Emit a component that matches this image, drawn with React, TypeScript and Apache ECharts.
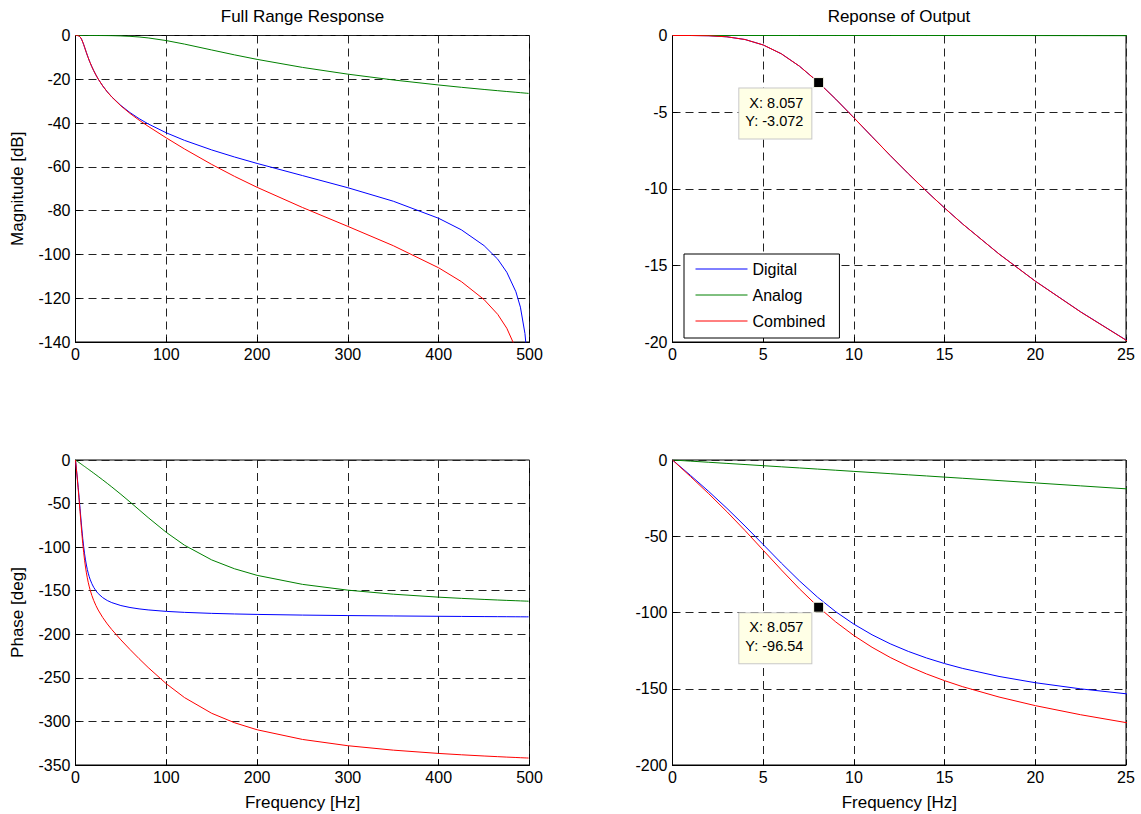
import React, { useEffect, useRef } from "react";
import * as echarts from "echarts";

const FONT = "'Liberation Sans', Arial, Helvetica, sans-serif";

// Frequency samples [Hz]
const freq = [0, 1, 2, 3, 4, 5, 6, 7, 8, 9, 10, 11, 12, 13, 14, 15, 16, 18, 20, 22.5, 25, 30, 35, 40, 50, 60, 70, 80, 100, 120, 150, 175, 200, 250, 300, 350, 400, 425, 450, 465, 475, 485, 490, 495, 497, 499];

// Magnitude [dB]
const digitalMag = [0, -0.001, -0.017, -0.085, -0.263, -0.617, -1.193, -2.004, -3.01, -4.153, -5.367, -6.603, -7.826, -9.016, -10.161, -11.257, -12.304, -14.254, -16.027, -18.032, -19.87, -23.02, -25.72, -28.05, -31.97, -35.21, -37.96, -40.36, -44.45, -47.89, -52.27, -55.48, -58.44, -63.99, -69.54, -75.7, -83.51, -88.77, -95.99, -102.17, -108.15, -117.04, -124.09, -136.14, -145.0, -164.0];
const analogMag = [0, 0, 0, 0, 0, 0, 0, 0, 0, 0, 0, 0, -0.001, -0.001, -0.001, -0.002, -0.002, -0.003, -0.005, -0.008, -0.012, -0.025, -0.046, -0.078, -0.188, -0.381, -0.682, -1.106, -2.326, -3.925, -6.614, -8.834, -10.91, -14.58, -17.66, -20.31, -22.61, -23.66, -24.65, -25.21, -25.58, -25.94, -26.12, -26.3, -26.37, -26.44];
const combinedMag = [0, -0.001, -0.017, -0.085, -0.263, -0.617, -1.193, -2.004, -3.01, -4.153, -5.367, -6.603, -7.827, -9.017, -10.162, -11.259, -12.306, -14.257, -16.032, -18.04, -19.882, -23.045, -25.766, -28.128, -32.158, -35.591, -38.642, -41.466, -46.776, -51.815, -58.884, -64.314, -69.35, -78.57, -87.2, -96.01, -106.12, -112.43, -120.64, -127.38, -133.73, -142.98, -150.21, -162.44, -171.37, -190.4];

// Phase [deg]
const digitalPhase = [0, -10.18, -20.66, -31.68, -43.31, -55.42, -67.59, -79.27, -90, -99.48, -107.65, -114.61, -120.51, -125.52, -129.81, -133.49, -136.69, -141.93, -146.04, -150.08, -153.29, -157.96, -161.25, -163.66, -167.03, -169.26, -170.85, -172.03, -173.72, -174.85, -176.0, -176.67, -177.2, -177.96, -178.52, -178.96, -179.34, -179.51, -179.68, -179.77, -179.84, -179.9, -179.94, -179.97, -179.98, -180.0];
const analogPhase = [0, -0.74, -1.49, -2.23, -2.98, -3.72, -4.47, -5.21, -5.96, -6.71, -7.46, -8.2, -8.96, -9.71, -10.46, -11.22, -11.98, -13.5, -15.03, -16.96, -18.9, -22.83, -26.85, -30.96, -39.4, -48.16, -57.1, -66.05, -83.04, -97.76, -114.66, -124.79, -132.37, -142.72, -149.37, -154.0, -157.4, -158.78, -160.0, -160.67, -161.09, -161.49, -161.69, -161.88, -161.95, -162.03];
const combinedPhase = [0, -10.92, -22.15, -33.91, -46.29, -59.14, -72.06, -84.48, -95.96, -106.19, -115.11, -122.81, -129.47, -135.23, -140.27, -144.71, -148.67, -155.43, -161.07, -167.04, -172.19, -180.79, -188.1, -194.62, -206.43, -217.42, -227.95, -238.08, -256.76, -272.61, -290.66, -301.46, -309.57, -320.68, -327.89, -332.96, -336.74, -338.29, -339.68, -340.44, -340.93, -341.39, -341.63, -341.85, -341.93, -342.03];

// Data tips
const tipX = 8.057;
const tipMag = -3.072;
const tipPhase = -96.54;

const seriesNames = ["Digital", "Analog", "Combined"];
const seriesColors = ["#0000ff", "#008000", "#ff0000"];

const titles = ["Full Range Response", "Reponse of Output"];
const magLabel = "Magnitude [dB]";
const phaseLabel = "Phase [deg]";
const freqLabel = "Frequency [Hz]";

export default function App() {
  const ref = useRef<HTMLDivElement>(null);

  useEffect(() => {
    document.body.style.margin = "0";
    const chart = echarts.init(ref.current!, null, { renderer: "svg" });

    const grids = [
      { left: 75.5, top: 35.5, width: 454, height: 306.5 },
      { left: 672.5, top: 35.5, width: 453.5, height: 306.5 },
      { left: 75.5, top: 460, width: 454, height: 305 },
      { left: 672.5, top: 460, width: 453.5, height: 305 },
    ].map((g) => ({
      ...g,
      show: true,
      borderColor: "#000",
      borderWidth: 1,
      backgroundColor: "#fff",
      containLabel: false,
    }));

    const xRanges = [
      { min: 0, max: 500, interval: 100 },
      { min: 0, max: 25, interval: 5 },
      { min: 0, max: 500, interval: 100 },
      { min: 0, max: 25, interval: 5 },
    ];
    const yRanges = [
      { min: -140, max: 0, interval: 20 },
      { min: -20, max: 0, interval: 5 },
      { min: -350, max: 0, interval: 50 },
      { min: -200, max: 0, interval: 50 },
    ];

    const splitLine = {
      show: true,
      lineStyle: { color: "#222", type: [8, 5], width: 1 },
    };

    const xAxes = xRanges.map((r, i) => ({
      type: "value",
      gridIndex: i,
      ...r,
      axisLine: { show: true, onZero: false, lineStyle: { color: "#000", width: 1 } },
      axisTick: { show: true, inside: true, length: 5, lineStyle: { color: "#000" } },
      axisLabel: { color: "#000", fontSize: 16, fontFamily: FONT, margin: 4 },
      splitLine,
      name: i >= 2 ? freqLabel : "",
      nameLocation: "middle",
      nameGap: 29,
      nameTextStyle: { color: "#000", fontSize: 17, fontFamily: FONT },
    }));

    const yAxes = yRanges.map((r, i) => ({
      type: "value",
      gridIndex: i,
      ...r,
      axisLine: { show: true, onZero: false, lineStyle: { color: "#000", width: 1 } },
      axisTick: { show: true, inside: true, length: 5, lineStyle: { color: "#000" } },
      axisLabel: { color: "#000", fontSize: 16, fontFamily: FONT, margin: 5 },
      splitLine,
      name: i === 0 ? magLabel : i === 2 ? phaseLabel : "",
      nameLocation: "middle",
      nameRotate: 90,
      nameGap: 50,
      nameTextStyle: { color: "#000", fontSize: 17, fontFamily: FONT },
    }));

    const gridData = [
      [digitalMag, analogMag, combinedMag],
      [digitalMag, analogMag, combinedMag],
      [digitalPhase, analogPhase, combinedPhase],
      [digitalPhase, analogPhase, combinedPhase],
    ];

    const series: any[] = [];
    gridData.forEach((arrs, g) => {
      arrs.forEach((arr, k) => {
        series.push({
          type: "line",
          name: seriesNames[k],
          xAxisIndex: g,
          yAxisIndex: g,
          data: freq.map((f, j) => [f, arr[j]]),
          symbol: "none",
          showSymbol: false,
          clip: true,
          lineStyle: { width: 1, color: seriesColors[k] },
          itemStyle: { color: seriesColors[k] },
          z: 3,
          silent: true,
        });
      });
    });

    const tipSeries = (axis: number, y: number) => ({
      type: "scatter",
      xAxisIndex: axis,
      yAxisIndex: axis,
      data: [[tipX, y]],
      symbol: "rect",
      symbolSize: 10,
      itemStyle: { color: "#000", borderColor: "#fffff0", borderWidth: 1, opacity: 1 },
      z: 10,
      silent: true,
      label: {
        show: true,
        position: [-1.8, 11.5],
        align: "right",
        verticalAlign: "top",
        formatter: `X: ${tipX}\nY: ${y}`,
        color: "#000",
        fontSize: 14.5,
        lineHeight: 18.5,
        fontFamily: FONT,
        backgroundColor: "#ffffe6",
        borderColor: "#c8c8c8",
        borderWidth: 1,
        padding: [5, 8, 8, 6],
      },
    });
    series.push(tipSeries(1, tipMag));
    series.push(tipSeries(3, tipPhase));

    const option: any = {
      animation: false,
      backgroundColor: "#fff",
      textStyle: { fontFamily: FONT },
      grid: grids,
      xAxis: xAxes,
      yAxis: yAxes,
      legend: {
        data: seriesNames,
        orient: "vertical",
        left: 684,
        top: 254,
        padding: [7, 14, 9, 11],
        itemWidth: 52,
        itemHeight: 14,
        itemGap: 10,
        backgroundColor: "#fff",
        borderColor: "#000",
        borderWidth: 1,
        borderRadius: 0,
        selectedMode: false,
        itemStyle: { opacity: 0, color: "rgba(0,0,0,0)", borderWidth: 0 },
        lineStyle: { width: 1 },
        textStyle: { fontSize: 16, color: "#000", fontFamily: FONT },
        z: 20,
      },
      graphic: [
        {
          type: "text",
          x: 302.5,
          y: 16,
          style: { text: titles[0], align: "center", verticalAlign: "middle", fontSize: 17, fontFamily: FONT, fill: "#000" },
        },
        {
          type: "text",
          x: 899,
          y: 16,
          style: { text: titles[1], align: "center", verticalAlign: "middle", fontSize: 17, fontFamily: FONT, fill: "#000" },
        },
      ],
      series,
    };

    chart.setOption(option);
    return () => chart.dispose();
  }, []);

  return <div ref={ref} style={{ width: 1141, height: 814 }} />;
}
